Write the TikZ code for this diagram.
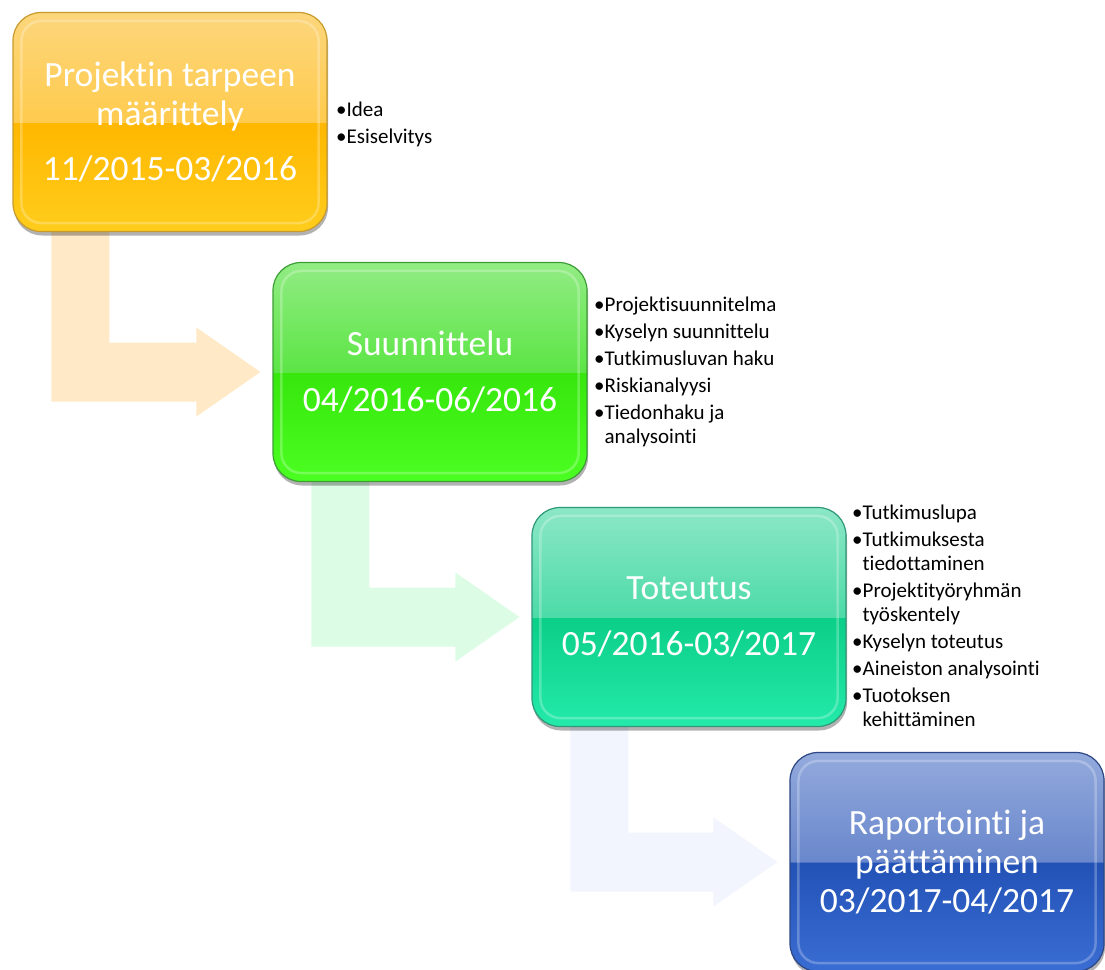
\documentclass[tikz,border=0pt]{standalone}
\usepackage{fontspec}
\setmainfont{Carlito}[Ligatures=NoCommon]
\usetikzlibrary{calc,shadows,backgrounds}
\definecolor{orTop}{HTML}{FCD67C}\definecolor{orUp}{HTML}{FFCB4E}\definecolor{orLow}{HTML}{FFB700}\definecolor{orBot}{HTML}{FFCD1C}\definecolor{orLine}{HTML}{C89B2C}
\definecolor{grTop}{HTML}{92EC84}\definecolor{grUp}{HTML}{5CE545}\definecolor{grLow}{HTML}{36E60C}\definecolor{grBot}{HTML}{4CFF22}\definecolor{grLine}{HTML}{3E9E36}
\definecolor{tlTop}{HTML}{8CE7C6}\definecolor{tlUp}{HTML}{4DDBA8}\definecolor{tlLow}{HTML}{0BCF88}\definecolor{tlBot}{HTML}{24EAAA}\definecolor{tlLine}{HTML}{2E9878}
\definecolor{blTop}{HTML}{93AADC}\definecolor{blUp}{HTML}{6987CC}\definecolor{blLow}{HTML}{2352B6}\definecolor{blBot}{HTML}{3A6DD3}\definecolor{blLine}{HTML}{2D4785}
\definecolor{arrA}{HTML}{FFE9C6}\definecolor{arrB}{HTML}{DDFCE5}\definecolor{arrC}{HTML}{F2F5FE}
\newcommand{\glossy}[1]{\pgfdeclareverticalshading{#1Gloss}{100bp}{color(0bp)=(#1Bot); color(25bp)=(#1Bot); color(49.9bp)=(#1Low); color(50bp)=(#1Up); color(75bp)=(#1Top); color(100bp)=(#1Top)}}
\glossy{or}\glossy{gr}\glossy{tl}\glossy{bl}
% bent arrow from the bottom of one phase to the left side of the next
\newcommand{\bentarrow}[3]{\fill[#3] let \p1=(#1.south west), \p2=(#2.west) in
  (\x1+39pt,\y1) -- (\x1+97pt,\y1) -- (\x1+97pt,\y2+29.5pt) -- (\x2-76pt,\y2+29.5pt) -- (\x2-76pt,\y2+44.5pt)
  -- (\x2-12pt,\y2) -- (\x2-76pt,\y2-44.5pt) -- (\x2-76pt,\y2-29.5pt) -- (\x1+39pt,\y2-29.5pt) -- cycle;}
\tikzset{phase/.style={draw=#1Line,line width=1.2pt,shading=#1Gloss,rounded corners=28pt,minimum width=314pt,minimum height=219pt,
    text=white,align=center,font=\fontsize{35.5}{39}\selectfont,drop shadow={shadow xshift=1pt,shadow yshift=-4pt,opacity=.3,fill=black}},
  rim/.style={draw=white,opacity=.25,line width=2.5pt,rounded corners=20pt},
  list/.style={anchor=base west,align=left,inner sep=0pt,font=\fontsize{21}{24}\selectfont}}
\begin{document}
\begin{tikzpicture}[x=1pt,y=-1pt]
\useasboundingbox (0,0) rectangle (1105,969);
\node[phase=or] (def) at (170,122){Projektin tarpeen\\määrittely\\[16pt]11/2015-03/2016};
\node[phase=gr] (plan) at (430,372){Suunnittelu\\[17pt]04/2016-06/2016};
\node[phase=tl] (exec) at (689,617){Toteutus\\[17pt]05/2016-03/2017};
\node[phase=bl] (rep) at (947,862){Raportointi ja\\päättäminen\\03/2017-04/2017};
\foreach \b in {def,plan,exec,rep} \draw[rim] ([shift={(9,9)}]\b.north west) rectangle ([shift={(-9,-9)}]\b.south east);
% lists: anchored at the baseline of their last line
\node[list] (defL) at (336,143){•Idea\\[3pt]•Esiselvitys};
\node[list] (planL) at (594,443){•Projektisuunnitelma\\[3pt]•Kyselyn suunnittelu\\[3pt]•Tutkimusluvan haku\\[3pt]•Riskianalyysi\\[3pt]•Tiedonhaku ja\\\phantom{•}analysointi};
\node[list] (execL) at (852,726){•Tutkimuslupa\\[3pt]•Tutkimuksesta\\\phantom{•}tiedottaminen\\[3pt]•Projektityöryhmän\\\phantom{•}työskentely\\[3pt]•Kyselyn toteutus\\[3pt]•Aineiston analysointi\\[3pt]•Tuotoksen\\\phantom{•}kehittäminen};
\begin{pgfonlayer}{background}
\fill[white] (0,0) rectangle (1105,969);
\bentarrow{def}{plan}{arrA} \bentarrow{plan}{exec}{arrB} \bentarrow{exec}{rep}{arrC}
\end{pgfonlayer}
\end{tikzpicture}
\end{document}
